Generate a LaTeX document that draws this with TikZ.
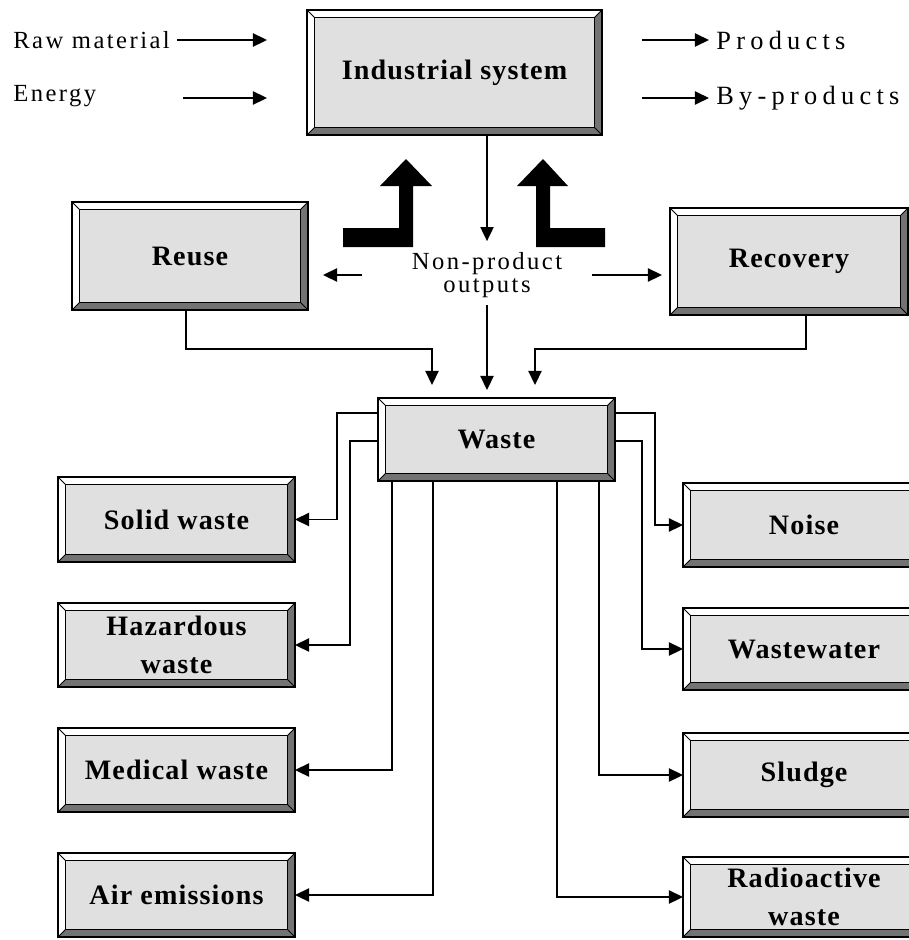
\documentclass[tikz,border=0pt]{standalone}
\usepackage{fontspec}
\setmainfont{Liberation Serif}
\newfontfamily\spacedfont[LetterSpace=10]{Liberation Serif}
\newfontfamily\widefont[LetterSpace=20]{Liberation Serif}
\newfontfamily\panelfont[LetterSpace=4]{Liberation Serif}
\usetikzlibrary{arrows.meta}

\definecolor{panelfill}{gray}{0.88}
\definecolor{beveldark}{gray}{0.45}

\tikzset{
  panel/.style={draw=black, line width=1.1pt, fill=panelfill, inner sep=0pt, outer sep=0pt,
    align=center, font=\panelfont\fontsize{16}{22}\selectfont\bfseries,
    path picture={
      \def\bev{0.15cm}
      \coordinate (pSW) at (path picture bounding box.south west);
      \coordinate (pNE) at (path picture bounding box.north east);
      \coordinate (pNW) at (path picture bounding box.north west);
      \coordinate (pSE) at (path picture bounding box.south east);
      \fill[beveldark] (pSW) -- (pSE) -- (pNE) -- ([shift={(-\bev,-\bev)}]pNE) |- ([shift={(\bev,\bev)}]pSW) -- cycle;
      \fill[white] (pSW) -- (pNW) -- (pNE) -- ([shift={(-\bev,-\bev)}]pNE) -| ([shift={(\bev,\bev)}]pSW) -- cycle;
      \draw[line width=0.7pt] ([shift={(\bev,\bev)}]pSW) rectangle ([shift={(-\bev,-\bev)}]pNE);
      \draw[line width=0.5pt] (pSW) -- ([shift={(\bev,\bev)}]pSW) (pNE) -- ([shift={(-\bev,-\bev)}]pNE)
        (pNW) -- ([shift={(\bev,-\bev)}]pNW) (pSE) -- ([shift={(-\bev,\bev)}]pSE);
    }},
  lbl/.style={inner sep=0pt, font=\spacedfont\fontsize{14}{13.5}\selectfont},
  outlbl/.style={inner sep=0pt, font=\widefont\fontsize{15}{15}\selectfont},
  flow/.style={line width=0.9pt, -{Triangle[length=8pt,width=7.5pt]}},
  bigarrow/.style={fill=black}
}

\begin{document}
\begin{tikzpicture}[x=0.02cm, y=-0.02cm]

    \useasboundingbox (0,0) rectangle (909,940);

    % column params
    \def\leftCol{176.5}
    \def\rightCol{804}

    % draw main boxes
    \node[panel, minimum width=5.9cm, minimum height=2.5cm] (ind) at (454.5,72.5) {Industrial system};
    \node[panel, minimum width=4.72cm, minimum height=2.16cm] (reuse) at (190,256) {Reuse};
    \node[panel, minimum width=4.76cm, minimum height=2.14cm] (recovery) at (789,261.5) {Recovery};
    \node[panel, minimum width=4.74cm, minimum height=1.66cm] (waste) at (496.5,439.5) {Waste};

    % draw waste boxes, left
    \node[panel, minimum width=4.74cm, minimum height=1.7cm] (solid) at (\leftCol,519.5) {Solid waste};
    \node[panel, minimum width=4.74cm, minimum height=1.68cm] (hazard) at (\leftCol,645) {Hazardous\\waste};
    \node[panel, minimum width=4.74cm, minimum height=1.68cm] (medical) at (\leftCol,770) {Medical waste};
    \node[panel, minimum width=4.74cm, minimum height=1.68cm] (air) at (\leftCol,895) {Air emissions};

    % draw waste boxes, right (cut by the page edge)
    \node[panel, minimum width=4.84cm, minimum height=1.68cm] (noise) at (\rightCol,525) {Noise};
    \node[panel, minimum width=4.84cm, minimum height=1.64cm] (wastewater) at (\rightCol,649) {Wastewater};
    \node[panel, minimum width=4.84cm, minimum height=1.68cm] (sludge) at (\rightCol,775) {Sludge};
    \node[panel, minimum width=4.84cm, minimum height=1.6cm] (radio) at (\rightCol,897) {Radioactive\\waste};

    % inputs and outputs
    \node[lbl, anchor=west] (raw) at (13,40) {Raw material};
    \node[lbl, anchor=west] (energy) at (13,96) {Energy};
    \node[outlbl, anchor=west] (prod) at (716,40) {Products};
    \node[outlbl, anchor=west] (byprod) at (716,98) {By-products};
    \node[lbl, align=center] (npo) at (487,275) {Non-product\\outputs};

    \coordinate (energyTail) at (183,98);
    \draw[flow, shorten <=4pt, shorten >=0.8cm] (raw) -- (raw -| ind.west);
    \draw[flow, shorten >=0.8cm] (energyTail) -- (energyTail -| ind.west);
    \draw[flow, shorten <=0.8cm, shorten >=4pt] (prod -| ind.east) -- (prod);
    \draw[flow, shorten <=0.8cm, shorten >=4pt] (byprod -| ind.east) -- (byprod);

    % draw non-product outputs
    \draw[flow, shorten >=6pt] (ind.south -| npo) -- (npo);
    \draw[flow, shorten <=1cm, shorten >=0.3cm] (npo) -- (npo -| reuse.east);
    \draw[flow, shorten <=0.6cm, shorten >=0.16cm] (npo) -- (npo -| recovery.west);
    \draw[flow, shorten <=4pt, shorten >=0.16cm] (npo) -- (npo |- waste.north);

    % draw return arrows
    \fill[bigarrow] (343,228) -- (399,228) -- (399,186) -- (380,186) -- (406,159) -- (432,186) -- (413,186) -- (413,247) -- (343,247) -- cycle;
    \fill[bigarrow] (605,228) -- (550,228) -- (550,186) -- (568,186) -- (543,159) -- (517,186) -- (536,186) -- (536,247) -- (605,247) -- cycle;

    % draw reuse and recovery to waste
    \coordinate (reuseBend) at (432,349);
    \coordinate (recoveryBend) at (535,349);
    \draw[flow, shorten >=0.26cm] ([xshift=-0.08cm]reuse.south) |- (reuseBend) -- (reuseBend |- waste.north);
    \draw[flow, shorten >=0.26cm] ([xshift=0.34cm]recovery.south) |- (recoveryBend) -- (recoveryBend |- waste.north);

    % draw waste branches
    \draw[flow] ([yshift=-0.3cm]waste.north west) -- ++(-41,0) |- (solid.east);
    \draw[flow] ([yshift=-0.86cm]waste.north west) -- ++(-28,0) |- (hazard.east);
    \draw[flow] ([xshift=0.28cm]waste.south west) |- (medical.east);
    \draw[flow] ([xshift=1.1cm]waste.south west) |- (air.east);
    \draw[flow] ([yshift=-0.3cm]waste.north east) -- ++(40,0) |- (noise.west);
    \draw[flow] ([yshift=-0.86cm]waste.north east) -- ++(27,0) |- (wastewater.west);
    \draw[flow] ([xshift=-0.32cm]waste.south east) |- (sludge.west);
    \draw[flow] ([xshift=-1.16cm]waste.south east) |- (radio.west);

\end{tikzpicture}
\end{document}
